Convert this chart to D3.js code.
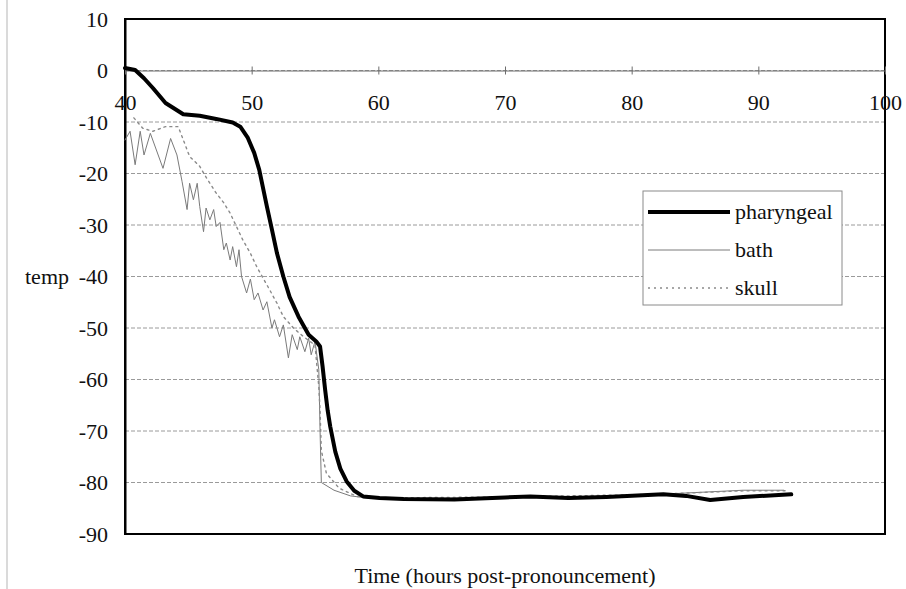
<!DOCTYPE html>
<html>
<head>
<meta charset="utf-8">
<script src="https://cdn.jsdelivr.net/npm/d3@7"></script>
<style>
  body { margin: 0; background: #fff; }
</style>
</head>
<body>
<svg id="chart" width="906" height="589"></svg>
<script>
// Tick values for both axes
var xTicks = [40, 50, 60, 70, 80, 90, 100]
var yTicks = [10, 0, -10, -20, -30, -40, -50, -60, -70, -80, -90]

// pharyngeal probe (thick black line)
var pharyngealHours = [40, 40.8, 41.5, 42.2, 43.2, 44.6, 45.9, 47.2, 48.5, 49.1, 49.7, 50.2, 50.6, 51.2, 51.6,
  52.0, 52.5, 53.0, 53.7, 54.5, 55.1, 55.4, 55.6, 55.8, 56.0, 56.2, 56.6, 57.0, 57.5, 58.1, 58.8, 60.1, 62, 66, 70,
  72, 75, 78, 82.5, 84.3, 86.2, 88.8, 92.6]
var pharyngealTemp = [0.5, 0.1, -1.5, -3.4, -6.3, -8.5, -8.8, -9.4, -10.1, -10.9, -13.1, -16, -19.3, -26.4, -30.9,
  -35.5, -40, -44, -47.8, -51.3, -52.6, -53.6, -57.5, -62, -66, -69.1, -74, -77.3, -79.8, -81.6, -82.7, -83, -83.2,
  -83.3, -82.9, -82.7, -83, -82.8, -82.3, -82.6, -83.4, -82.8, -82.3]

// bath (thin grey, jagged)
var bathHours = [40, 40.4, 40.8, 41.2, 41.5, 42.0, 43.0, 43.6, 44.1, 44.5, 44.9, 45.1, 45.4, 45.7, 45.9, 46.2,
  46.4, 46.7, 47.0, 47.2, 47.5, 47.8, 48.0, 48.3, 48.5, 48.8, 49.0, 49.2, 49.6, 49.9, 50.2, 50.5, 50.9, 51.2,
  51.6, 51.8, 52.2, 52.5, 52.9, 53.2, 53.6, 53.8, 54.2, 54.5, 54.7, 55.0, 55.3, 55.4, 55.5, 56.5, 57.8, 59.1,
  62, 70, 75, 80, 84.6, 88.8, 92.0]
var bathTemp = [-13.5, -11.8, -18.3, -11.8, -16.4, -12.2, -19.0, -13.2, -16.4, -21.5, -27.0, -21.9, -25.1, -21.9,
  -26.4, -31.3, -26.7, -29.0, -27.0, -30.3, -29.5, -34.8, -33.5, -36.8, -34.2, -38.1, -34.8, -40.0, -43.2, -40.5,
  -44.5, -43.2, -46.5, -44.9, -50.0, -48.4, -51.7, -49.4, -55.8, -51.3, -54.2, -51.7, -54.6, -52.0, -55.2, -52.6,
  -58.1, -70, -80.0, -81.5, -82.6, -83.0, -83.2, -82.9, -83.0, -82.6, -82.0, -81.5, -81.5]

// skull (dotted grey)
var skullHours = [40.7, 41.4, 42.2, 43.2, 44.2, 44.5, 45.1, 45.9, 46.2, 46.7, 47.2, 47.8, 48.3, 48.8, 49.3, 49.9,
  50.4, 50.9, 51.4, 52.0, 52.5, 53.3, 54.1, 55.0, 55.3, 55.4, 55.5, 55.9, 56.9, 58.3, 60, 70, 80, 85, 89, 92.3]
var skullTemp = [-9.2, -11.2, -11.8, -10.9, -10.9, -12.8, -16.7, -18.6, -19.9, -21.9, -23.8, -25.7, -27.7, -30.3,
  -32.9, -35.5, -38.1, -40.3, -42.5, -45.2, -47.8, -50.0, -51.7, -53.3, -61.4, -66, -73.8, -78.2, -81.1, -82.7,
  -83.0, -82.8, -82.4, -82.0, -81.6, -81.6]

var seriesNames = ["pharyngeal", "bath", "skull"]

// magic numbers for the layout
var vis = {
  "left": 125, "right": 885, "top": 19, "bottom": 534,
  "font": "'Liberation Serif', 'Times New Roman', serif",
  "fontSize": "22px",
  "styles": {
    "pharyngeal": { "stroke": "#000", "width": 4, "dash": null },
    "bath": { "stroke": "#7a7a7a", "width": 1, "dash": null },
    "skull": { "stroke": "#8a8a8a", "width": 1.4, "dash": "2,4" }
  }
}

var svg = d3.select("#chart")

// faint scan edge on the left of the page
svg.append("line")
  .attr("x1", 7).attr("x2", 7).attr("y1", 0).attr("y2", 589)
  .style("stroke", "#b5b5b5")

var xScale = d3.scaleLinear().domain([40, 100]).range([vis.left, vis.right])
var yScale = d3.scaleLinear().domain([-90, 10]).range([vis.bottom, vis.top])

// horizontal grid lines
svg.append("g")
  .selectAll("line")
  .data(yTicks.filter(function(d) { return d < 10 && d > -90 }))
  .enter()
  .append("line")
  .attr("x1", vis.left).attr("x2", vis.right)
  .attr("y1", function(d) { return yScale(d) })
  .attr("y2", function(d) { return yScale(d) })
  .style("stroke", "#9a9a9a")
  .style("stroke-dasharray", "4,2")

// plot frame
svg.append("rect")
  .attr("x", vis.left).attr("y", vis.top)
  .attr("width", vis.right - vis.left).attr("height", vis.bottom - vis.top)
  .style("fill", "none")
  .style("stroke", "#000")
  .style("stroke-width", 2)

// y axis
var yAxis = svg.append("g")
  .attr("transform", "translate(" + vis.left + ",0)")
  .call(d3.axisLeft(yScale).tickValues(yTicks).tickSize(0).tickPadding(17))
yAxis.select(".domain").style("stroke", "#000").style("stroke-width", 2)
yAxis.selectAll("text").text(function(d) { return d < 0 ? "-" + Math.abs(d) : d })

// x axis crosses at 0
var xAxis = svg.append("g")
  .attr("transform", "translate(0," + yScale(0) + ")")
  .call(d3.axisBottom(xScale).tickValues(xTicks).tickSize(4).tickSizeOuter(0).tickPadding(20))
xAxis.select(".domain").style("stroke", "#6d6d6d")
xAxis.selectAll(".tick line").attr("y1", -4).style("stroke", "#6d6d6d")

// series lines
var line = d3.line()
  .x(function(d) { return xScale(d[0]) })
  .y(function(d) { return yScale(d[1]) })

var series = [
  { name: "bath", points: d3.zip(bathHours, bathTemp) },
  { name: "skull", points: d3.zip(skullHours, skullTemp) },
  { name: "pharyngeal", points: d3.zip(pharyngealHours, pharyngealTemp) }
]

svg.append("g")
  .selectAll("path")
  .data(series)
  .enter()
  .append("path")
  .attr("d", function(d) { return line(d.points) })
  .style("fill", "none")
  .style("stroke", function(d) { return vis.styles[d.name].stroke })
  .style("stroke-width", function(d) { return vis.styles[d.name].width })
  .style("stroke-dasharray", function(d) { return vis.styles[d.name].dash })
  .style("stroke-linejoin", "round")
  .style("stroke-linecap", "round")

// legend
var legend = svg.append("g").attr("transform", "translate(643,191)")
legend.append("rect")
  .attr("width", 199).attr("height", 114)
  .style("fill", "#fff")
  .style("stroke", "#8a8a8a")

var entry = legend.selectAll("g")
  .data(seriesNames)
  .enter()
  .append("g")
  .attr("transform", function(d, i) { return "translate(0," + (21 + i * 38) + ")" })

entry.append("line")
  .attr("x1", 5).attr("x2", 87)
  .style("stroke", function(d) { return vis.styles[d].stroke })
  .style("stroke-width", function(d) { return vis.styles[d].width })
  .style("stroke-dasharray", function(d) { return vis.styles[d].dash })

entry.append("text")
  .attr("x", 92).attr("dy", "0.32em")
  .text(function(d) { return d })

// axis titles
svg.append("text")
  .attr("x", 69).attr("y", yScale(-40)).attr("dy", "0.32em")
  .attr("text-anchor", "end")
  .text("temp")

svg.append("text")
  .attr("x", (vis.left + vis.right) / 2).attr("y", 583)
  .attr("text-anchor", "middle")
  .text("Time (hours post-pronouncement)")

// every label in the same serif face
svg.selectAll("text")
  .style("font-family", vis.font)
  .style("font-size", vis.fontSize)
  .style("fill", "#111")
</script>
</body>
</html>
